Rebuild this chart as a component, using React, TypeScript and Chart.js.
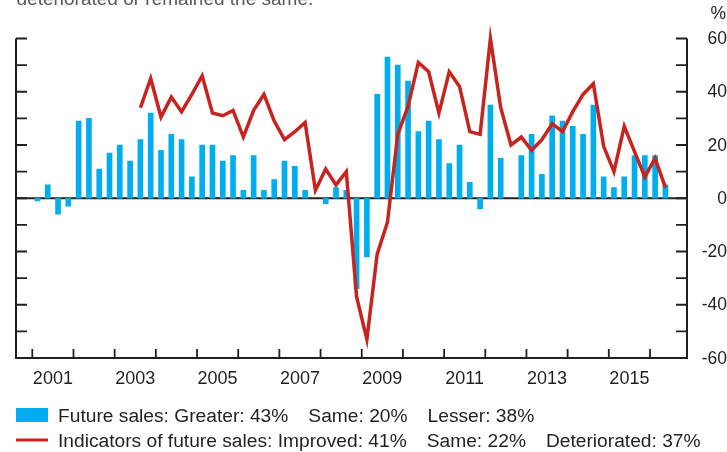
import React, { useEffect, useRef } from 'react';
import { Chart, registerables } from 'chart.js';

Chart.register(...registerables);

// ---- data ----
const years = [2001, 2002, 2003, 2004, 2005, 2006, 2007, 2008, 2009, 2010, 2011, 2012, 2013, 2014, 2015, 2016];
const quarterNames = ['Q1', 'Q2', 'Q3', 'Q4'];
const categories = years.flatMap((y) => quarterNames.map((q) => `${y} ${q}`)).slice(0, 62);

// Future sales: greater minus lesser (bars), quarterly 2001 Q1 – 2016 Q2
const futureSales: (number | null)[] = [
  -1, 5, -6, -3,
  29, 30, 11, 17,
  20, 14, 22, 32,
  18, 24, 22, 8,
  20, 20, 14, 16,
  3, 16, 3, 7,
  14, 12, 3, null,
  -2, 4, 3, -34,
  -22, 39, 53, 50,
  44, 25, 29, 22,
  13, 20, 6, -4,
  35, 15, null, 16,
  24, 9, 31, 29,
  27, 24, 35, 8,
  4, 8, 16, 16,
  16, 5,
];

// Indicators of future sales: improved minus deteriorated (line)
const indicators: (number | null)[] = [
  null, null, null, null,
  null, null, null, null,
  null, null, 34, 45,
  30.5, 38, 32.5, 39,
  46, 32, 31, 33,
  23, 33, 39, 29,
  22, 25, 28.5, 3,
  11, 5, 10, -37,
  -53, -21, -9, 24,
  34.5, 51, 47.5, 32,
  47.5, 42, 25, 24,
  60, 34, 20, 23,
  18, 22, 28, 25,
  32.5, 39, 43, 19.5,
  10, 27, 17.5, 8,
  15, 4,
];

const yTickValues = [-60, -50, -40, -30, -20, -10, 0, 10, 20, 30, 40, 50, 60];
const yLabelValues = [-60, -40, -20, 0, 20, 40, 60];
const yearTickValues = years;
const yearLabels = ['2001', '2003', '2005', '2007', '2009', '2011', '2013', '2015'];

const unitLabel = '%';
const headerText = 'deteriorated or remained the same.';
const salesLegend = ['Future sales: Greater: 43%', 'Same: 20%', 'Lesser: 38%'];
const indicatorLegend = ['Indicators of future sales: Improved: 41%', 'Same: 22%', 'Deteriorated: 37%'];

// ---- styles ----
const BLUE = '#00aeef';
const RED = '#c8231e';
const INK = '#231f20';
const FONT = '"Liberation Sans", Arial, sans-serif';

function categoryToX(c: string): number {
  const [y, q] = c.split(' ');
  return Number(y) + quarterNames.indexOf(q) * 0.25 + 0.125;
}

const decorPlugin = {
  id: 'decor',
  beforeDatasetsDraw(chart: any) {
    const { ctx, chartArea, scales } = chart;
    const y0 = scales.y.getPixelForValue(0);
    ctx.save();
    ctx.strokeStyle = INK;
    ctx.lineWidth = 2;
    ctx.beginPath();
    ctx.moveTo(chartArea.left, y0);
    ctx.lineTo(chartArea.right, y0);
    ctx.stroke();
    ctx.restore();
  },
  afterDraw(chart: any) {
    const { ctx, chartArea, scales } = chart;
    const { left, right, top, bottom } = chartArea;
    const ys = scales.y;
    const xs = scales.x;
    ctx.save();
    // axes frame
    ctx.strokeStyle = INK;
    ctx.lineWidth = 2;
    ctx.lineJoin = 'miter';
    ctx.lineCap = 'butt';
    ctx.beginPath();
    ctx.moveTo(left, top);
    ctx.lineTo(left, bottom);
    ctx.lineTo(right, bottom);
    ctx.lineTo(right, top);
    ctx.stroke();
    // y ticks (inward)
    ctx.lineWidth = 1.8;
    ctx.beginPath();
    for (const v of yTickValues) {
      const y = ys.getPixelForValue(v);
      ctx.moveTo(left, y);
      ctx.lineTo(left + 11, y);
      ctx.moveTo(right - 11, y);
      ctx.lineTo(right, y);
    }
    // x ticks (upward)
    for (const yr of yearTickValues) {
      const x = xs.getPixelForValue(yr);
      ctx.moveTo(x, bottom);
      ctx.lineTo(x, bottom - 9);
    }
    ctx.stroke();

    // right labels
    ctx.fillStyle = INK;
    ctx.font = `17.5px ${FONT}`;
    ctx.textAlign = 'right';
    ctx.textBaseline = 'alphabetic';
    for (const v of yLabelValues) {
      const y = ys.getPixelForValue(v);
      ctx.fillText(String(v), 727, y + 5.5);
    }
    ctx.fillText(unitLabel, 726, 18.5);

    // year labels
    ctx.font = `18px ${FONT}`;
    ctx.textAlign = 'center';
    for (const lab of yearLabels) {
      const x = xs.getPixelForValue(Number(lab) + 0.5);
      ctx.fillText(lab, x, 383.5);
    }

    // header remnant
    ctx.fillStyle = '#58595b';
    ctx.font = `19px ${FONT}`;
    ctx.textAlign = 'left';
    ctx.fillText(headerText, 16.5, 5);

    // legend
    const gap = 20;
    ctx.font = `19.2px ${FONT}`;
    ctx.fillStyle = BLUE;
    ctx.fillRect(16, 408, 32, 14);
    ctx.strokeStyle = RED;
    ctx.lineWidth = 3;
    ctx.beginPath();
    ctx.moveTo(16, 440);
    ctx.lineTo(48, 440);
    ctx.stroke();
    ctx.fillStyle = INK;
    let x = 58;
    for (const t of salesLegend) {
      ctx.fillText(t, x, 422);
      x += ctx.measureText(t).width + gap;
    }
    x = 58;
    for (const t of indicatorLegend) {
      ctx.fillText(t, x, 447);
      x += ctx.measureText(t).width + gap;
    }
    ctx.restore();
  },
};

export default function App() {
  const ref = useRef<HTMLCanvasElement | null>(null);
  useEffect(() => {
    if (!ref.current) return;
    const chart = new Chart(ref.current, {
      type: 'bar',
      data: {
        datasets: [
          {
            type: 'line',
            label: 'Indicators of future sales',
            data: categories.map((c, i) => ({ x: categoryToX(c), y: indicators[i] })),
            borderColor: RED,
            borderWidth: 3.5,
            pointRadius: 0,
            tension: 0,
            fill: false,
            clip: false,
            order: 0,
          } as any,
          {
            type: 'bar',
            label: 'Future sales',
            data: categories.map((c, i) => ({ x: categoryToX(c), y: futureSales[i] })),
            backgroundColor: BLUE,
            borderWidth: 0,
            barThickness: 5,
            order: 1,
          } as any,
        ],
      },
      options: {
        animation: false,
        responsive: false,
        layout: { padding: { left: 16, right: 40, top: 38.5, bottom: 94 } },
        scales: {
          x: { type: 'linear', min: 2000.604, max: 2016.899, offset: false, display: false },
          y: { type: 'linear', min: -60, max: 60, display: false },
        },
        plugins: { legend: { display: false }, tooltip: { enabled: false } },
      },
      plugins: [decorPlugin],
    });
    return () => chart.destroy();
  }, []);
  return (
    <div style={{ position: 'absolute', left: 0, top: 0, width: 727, height: 452, background: '#fff' }}>
      <canvas ref={ref} width={727} height={452} style={{ display: 'block' }} />
    </div>
  );
}
